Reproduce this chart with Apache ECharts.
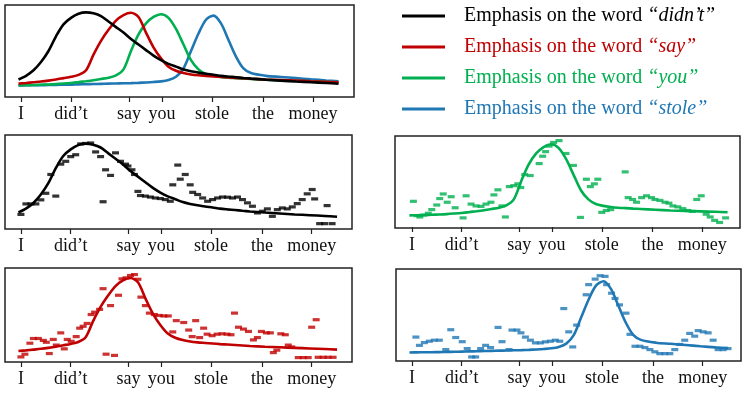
<!DOCTYPE html>
<html>
<head>
<meta charset="utf-8">
<script src="https://cdn.jsdelivr.net/npm/echarts@6/dist/echarts.min.js"></script>
<style>
html, body { margin: 0; padding: 0; background: #fff; }
#main { width: 748px; height: 394px; }
</style>
</head>
<body>
<div id="main"></div>
<script>
// words of the sentence and where they sit on the time axis (frames)
var words = ['I', 'did’t', 'say', 'you', 'stole', 'the', 'money'];
var wordPos = [0, 10, 21.6, 28.2, 38.2, 48.4, 58.4];
var legendWords = ['didn’t', 'say', 'you', 'stole'];

// modelled contours (time in frames, normalized pitch)
var curveX = [-0.5, 1, 2.5, 4, 5.5, 7, 8.5, 10, 11.5, 13, 14.5, 16, 17.5, 19, 20.5, 22, 23.5, 25, 26.5, 28, 29.5, 31, 32.5,
    34, 35.5, 37, 38.5, 40, 41.5, 43, 44.5, 46, 49, 52, 55, 58, 61, 63.5];
var blackCurve = [0.19, 0.23, 0.29, 0.38, 0.50, 0.66, 0.79, 0.86, 0.905, 0.92, 0.91, 0.88, 0.82, 0.76, 0.70, 0.63, 0.57, 0.51, 0.45, 0.40, 0.36, 0.33, 0.30,
    0.28, 0.265, 0.252, 0.242, 0.23, 0.222, 0.215, 0.207, 0.20, 0.188, 0.178, 0.168, 0.16, 0.152, 0.144];
var redCurve = [0.145, 0.152, 0.16, 0.168, 0.178, 0.19, 0.205, 0.22, 0.24, 0.29, 0.46, 0.61, 0.73, 0.83, 0.89, 0.915, 0.87, 0.70, 0.54, 0.42, 0.33, 0.285, 0.26,
    0.245, 0.236, 0.23, 0.224, 0.218, 0.213, 0.208, 0.203, 0.198, 0.19, 0.184, 0.178, 0.172, 0.166, 0.16];
var greenCurve = [0.126, 0.128, 0.13, 0.133, 0.136, 0.14, 0.146, 0.153, 0.162, 0.172, 0.183, 0.196, 0.21, 0.235, 0.30, 0.50, 0.68, 0.80, 0.87, 0.90, 0.86, 0.74, 0.57,
    0.40, 0.30, 0.25, 0.23, 0.218, 0.21, 0.205, 0.20, 0.196, 0.188, 0.18, 0.175, 0.17, 0.165, 0.16];
var blueCurve = [0.126, 0.127, 0.128, 0.129, 0.13, 0.132, 0.133, 0.135, 0.137, 0.139, 0.141, 0.143, 0.145, 0.147, 0.149, 0.151, 0.154, 0.158, 0.163, 0.17, 0.185, 0.22, 0.31,
    0.50, 0.69, 0.84, 0.885, 0.80, 0.62, 0.44, 0.31, 0.26, 0.23, 0.218, 0.205, 0.192, 0.18, 0.172];

// measured pitch per frame [frame, height in panel]
var blackDots = [[0, 0.155], [1, 0.267], [2, 0.267], [3, 0.267], [4, 0.31], [5, 0.38], [6, 0.58], [7, 0.35], [8, 0.69], [9, 0.72],
    [10, 0.77], [11, 0.79], [12, 0.905], [13, 0.91], [14, 0.915], [15, 0.82], [16, 0.77], [16.5, 0.29], [17, 0.63], [18, 0.57],
    [19, 0.81], [20, 0.72], [21, 0.69], [21.5, 0.67], [22.3, 0.63], [22.8, 0.58], [23.5, 0.40], [24, 0.356], [25, 0.35], [26, 0.34],
    [27, 0.33], [28, 0.324], [29, 0.313], [30, 0.295], [30.5, 0.47], [31.5, 0.68], [32, 0.53], [33, 0.58], [34, 0.47], [34.5, 0.39],
    [35.5, 0.367], [36.5, 0.33], [37.5, 0.295], [38.5, 0.313], [39.5, 0.33], [40.5, 0.34], [41.5, 0.338], [42.5, 0.33], [43.5, 0.34],
    [44.5, 0.313], [45.5, 0.278], [46.5, 0.242], [47.5, 0.171], [48.5, 0.189], [49.5, 0.214], [50.5, 0.135], [51.5, 0.206],
    [52.5, 0.224], [53.5, 0.214], [54.5, 0.235], [55.5, 0.27], [56.5, 0.313], [57.5, 0.374], [58.5, 0.42], [59, 0.32], [60, 0.057],
    [61, 0.057], [61.5, 0.249], [62.5, 0.057]];
var greenDots = [[0.3, 0.29], [1, 0.134], [1.6, 0.12], [2.4, 0.14], [3.3, 0.16], [4, 0.2], [5, 0.25], [5.6, 0.32], [6.3, 0.37], [7.1, 0.28],
    [7.9, 0.34], [8.7, 0.22], [10.3, 0.11], [10.9, 0.35], [11.9, 0.26], [12.9, 0.24], [13.9, 0.235], [14.9, 0.26], [15.9, 0.28],
    [16.5, 0.36], [17.3, 0.415], [18.1, 0.24], [18.8, 0.12], [19.6, 0.45], [20.5, 0.46], [21.3, 0.48], [21.9, 0.44], [22.7, 0.58],
    [23.8, 0.57], [25.6, 0.70], [26.3, 0.78], [26.9, 0.83], [27.6, 0.89], [28.5, 0.93], [29.6, 0.95], [31, 0.81], [32.5, 0.68],
    [33.9, 0.115], [35.1, 0.53], [35.9, 0.45], [36.7, 0.48], [37.4, 0.53], [38.2, 0.17], [39.1, 0.19], [40, 0.2], [42.9, 0.61],
    [43.5, 0.33], [44.4, 0.31], [45.2, 0.28], [46.2, 0.33], [47.2, 0.35], [48.2, 0.33], [48.9, 0.31], [49.9, 0.30], [50.9, 0.28],
    [51.7, 0.27], [52.5, 0.24], [53.5, 0.23], [54.5, 0.21], [55.5, 0.19], [56.4, 0.18], [57.3, 0.31], [58.2, 0.35], [59.2, 0.15],
    [60, 0.12], [60.9, 0.083], [61.9, 0.06], [63.1, 0.11]];
var redDots = [[0, 0.054], [0.8, 0.083], [1.8, 0.2], [2.5, 0.25], [3.5, 0.25], [4.5, 0.23], [5.1, 0.21], [5.7, 0.09], [6.5, 0.24],
    [7.1, 0.18], [8, 0.31], [8.7, 0.14], [9.3, 0.24], [10.1, 0.22], [11.1, 0.27], [11.8, 0.36], [12.5, 0.38], [13.3, 0.41],
    [14.1, 0.505], [14.8, 0.53], [15.8, 0.56], [16.5, 0.78], [17.1, 0.083], [18, 0.6], [18.8, 0.07], [19.6, 0.71], [20.3, 0.885],
    [21.1, 0.895], [22, 0.92], [22.8, 0.93], [23.5, 0.88], [24.1, 0.69], [25, 0.6], [25.8, 0.52], [26.8, 0.505], [27.8, 0.495],
    [28.7, 0.49], [29.6, 0.49], [30.5, 0.32], [31.2, 0.44], [32.7, 0.42], [33.7, 0.34], [34.4, 0.27], [35.1, 0.44], [35.9, 0.26],
    [36.7, 0.36], [37.4, 0.296], [38.4, 0.28], [39.4, 0.296], [40.4, 0.3], [41.4, 0.296], [42.2, 0.29], [42.9, 0.52], [43.7, 0.37],
    [44.7, 0.35], [45.7, 0.325], [46.7, 0.235], [47.5, 0.26], [48.3, 0.325], [49.3, 0.31], [50.1, 0.31], [50.7, 0.1], [51.4, 0.126],
    [52.2, 0.3], [53.1, 0.29], [53.7, 0.18], [54.4, 0.16], [55.7, 0.047], [56.7, 0.047], [57.7, 0.047], [58.4, 0.37], [59.3, 0.45],
    [59.7, 0.05], [60.7, 0.05], [61.7, 0.05], [62.7, 0.05]];
var blueDots = [[0.8, 0.26], [1.5, 0.17], [2.5, 0.2], [3.5, 0.215], [4.5, 0.226], [5.5, 0.226], [6.8, 0.124], [7.8, 0.34], [8.8, 0.255],
    [10.1, 0.21], [11.1, 0.135], [12, 0.044], [12.8, 0.044], [13.8, 0.135], [14.8, 0.17], [15.8, 0.146], [17.3, 0.365], [18.1, 0.21],
    [19.5, 0.124], [20.1, 0.336], [21.1, 0.336], [21.9, 0.306], [22.8, 0.26], [23.8, 0.226], [24.8, 0.197], [25.8, 0.197],
    [26.8, 0.208], [27.8, 0.215], [28.8, 0.226], [29.7, 0.215], [30.5, 0.57], [31.5, 0.317], [32.3, 0.153], [33.1, 0.39], [35, 0.72],
    [35.5, 0.83], [36.8, 0.89], [37.8, 0.927], [38.8, 0.92], [39.1, 0.83], [40.1, 0.737], [40.8, 0.68], [41.7, 0.61], [43, 0.52],
    [43.8, 0.29], [44.8, 0.16], [45.8, 0.16], [46.8, 0.146], [47.8, 0.124], [48.8, 0.1], [49.8, 0.08], [50.8, 0.08], [51.8, 0.08],
    [52.8, 0.124], [53.8, 0.18], [54.8, 0.226], [55.8, 0.3], [56.8, 0.27], [57.5, 0.33], [58.5, 0.317], [59.5, 0.306], [60.5, 0.226],
    [61.5, 0.124], [62.5, 0.124], [63.5, 0.135]];

function pairs(xs, ys) {
    return xs.map(function (x, i) { return [x, ys[i]]; });
}

var colors = { black: '#000000', red: '#c00000', green: '#00b050', blue: '#1f77b4' };
var serif = 'Liberation Serif, Times New Roman, serif';

// panel boxes: top overview + four detail panels
var grids = [
    { left: 5, top: 5, width: 349, height: 92 },
    { left: 5, top: 135, width: 347, height: 94 },
    { left: 395, top: 136, width: 345, height: 92 },
    { left: 5, top: 268, width: 347, height: 94 },
    { left: 396, top: 269, width: 345, height: 92 }
];
var xRanges = [[-3.2, 66.6], [-3.2, 66.5], [-3.4, 66.0], [-3.2, 66.5], [-3.2, 66.1]];
var curveRanges = [[0, 1], [0.013, 1.013], [-0.011, 0.99], [0.029, 1.021], [0.035, 1.015]];

var xAxes = [], yAxes = [];
grids.forEach(function (g, i) {
    g.show = true;
    g.borderColor = '#222';
    g.borderWidth = 1.5;
    xAxes.push({
        type: 'value', gridIndex: i, min: xRanges[i][0], max: xRanges[i][1],
        axisLine: { show: false },
        splitLine: { show: false },
        axisTick: { show: true, customValues: wordPos, length: 5, lineStyle: { color: '#222', width: 1.2 } },
        axisLabel: {
            customValues: wordPos, margin: 8,
            fontFamily: serif, fontSize: 18, color: '#111',
            formatter: function (v) { return words[wordPos.indexOf(v)]; }
        }
    });
    // one axis for the contour, one (0..1) for the measured dashes
    yAxes.push({ type: 'value', gridIndex: i, min: curveRanges[i][0], max: curveRanges[i][1], show: false });
    yAxes.push({ type: 'value', gridIndex: i, min: 0, max: 1, show: false });
});

function lineSeries(name, curve, color, grid, z) {
    return {
        name: name, type: 'line', xAxisIndex: grid, yAxisIndex: grid * 2,
        data: pairs(curveX, curve), smooth: 0.3, symbol: 'none', z: z,
        itemStyle: { color: color }, lineStyle: { color: color, width: 2.6 }
    };
}
function dotSeries(name, dots, color, grid) {
    return {
        name: name, type: 'scatter', xAxisIndex: grid, yAxisIndex: grid * 2 + 1,
        data: dots, symbol: 'rect', symbolSize: [7, 3.2], z: 4,
        itemStyle: { color: color }
    };
}

var series = [
    lineSeries('didn’t', blackCurve, colors.black, 0, 6),
    lineSeries('say', redCurve, colors.red, 0, 5),
    lineSeries('you', greenCurve, colors.green, 0, 4),
    lineSeries('stole', blueCurve, colors.blue, 0, 3),
    lineSeries('didn’t contour', blackCurve, colors.black, 1, 3),
    dotSeries('didn’t pitch', blackDots, colors.black, 1),
    lineSeries('you contour', greenCurve, colors.green, 2, 3),
    dotSeries('you pitch', greenDots, colors.green, 2),
    lineSeries('say contour', redCurve, colors.red, 3, 3),
    dotSeries('say pitch', redDots, colors.red, 3),
    lineSeries('stole contour', blueCurve, colors.blue, 4, 3),
    dotSeries('stole pitch', blueDots, colors.blue, 4)
];

var myChart = echarts.init(document.getElementById('main'));
var option = {
    animation: false,
    backgroundColor: '#fff',
    grid: grids,
    xAxis: xAxes,
    yAxis: yAxes,
    legend: {
        orient: 'vertical', left: 402, top: 4, padding: 0,
        icon: 'rect', itemWidth: 43, itemHeight: 3, itemGap: 7,
        selectedMode: false,
        data: [
            { name: 'didn’t', textStyle: { color: colors.black } },
            { name: 'say', textStyle: { color: colors.red } },
            { name: 'you', textStyle: { color: colors.green } },
            { name: 'stole', textStyle: { color: colors.blue } }
        ],
        formatter: function (name) {
            return 'Emphasis on the word {it|“' + name + '”}';
        },
        textStyle: {
            fontFamily: serif, fontSize: 20, lineHeight: 24, padding: [0, 0, 0, 14],
            rich: { it: { fontStyle: 'italic', lineHeight: 24 } }
        }
    },
    series: series
};
myChart.setOption(option);
window.addEventListener('resize', function () {
    myChart.resize();
});
</script>
</body>
</html>
